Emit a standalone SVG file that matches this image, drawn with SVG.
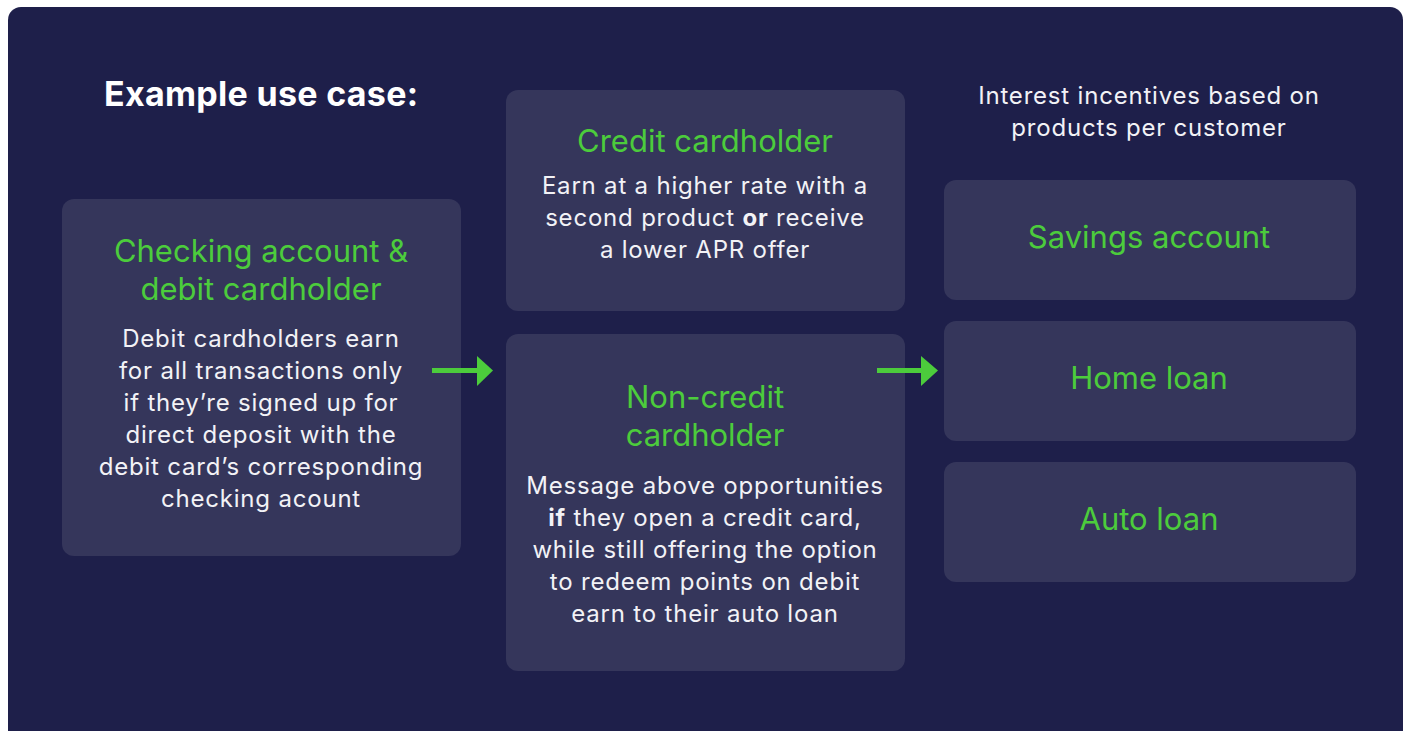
<svg xmlns="http://www.w3.org/2000/svg" width="1408" height="731" viewBox="0 0 1408 731">
<style>
.bg{fill:#1e1f4a}
.card{fill:#35365b}
.h{font-family:Inter,"Noto Sans",sans-serif;font-size:31px;fill:#4ccc3c;text-anchor:middle;font-weight:400}
.b{font-family:Inter,"Noto Sans",sans-serif;font-size:24px;letter-spacing:0.8px;fill:#f2f2f6;text-anchor:middle;font-weight:400}
.t{font-family:Inter,"Noto Sans",sans-serif;font-size:34px;letter-spacing:0.3px;fill:#ffffff;font-weight:700}
.bold{font-weight:700}
.arrow{fill:#4ccc3c}
</style>
<rect x="0" y="0" width="1408" height="731" fill="#ffffff"/>
<rect class="bg" x="8" y="7" width="1395" height="736" rx="13"/>
<text class="t" x="104" y="106">Example use case:</text>
<g id="caption">
<text class="b" x="1149" y="104">Interest incentives based on</text>
<text class="b" x="1149" y="136">products per customer</text>
</g>
<g id="checking">
<rect class="card" x="62" y="199" width="399" height="357" rx="12"/>
<text class="h" x="261" y="262">Checking account &amp;</text>
<text class="h" x="261" y="300">debit cardholder</text>
<text class="b" x="261" y="347">Debit cardholders earn</text>
<text class="b" x="261" y="379">for all transactions only</text>
<text class="b" x="261" y="411">if they’re signed up for</text>
<text class="b" x="261" y="443">direct deposit with the</text>
<text class="b" x="261" y="475">debit card’s corresponding</text>
<text class="b" x="261" y="507">checking acount</text>
</g>
<g id="credit">
<rect class="card" x="506" y="90" width="399" height="221" rx="12"/>
<text class="h" x="705" y="152">Credit cardholder</text>
<text class="b" x="705" y="194">Earn at a higher rate with a</text>
<text class="b" x="705" y="226">second product <tspan class="bold">or</tspan> receive</text>
<text class="b" x="705" y="258">a lower APR offer</text>
</g>
<g id="noncredit">
<rect class="card" x="506" y="334" width="399" height="337" rx="12"/>
<text class="h" x="705" y="408">Non-credit</text>
<text class="h" x="705" y="446">cardholder</text>
<text class="b" x="705" y="494">Message above opportunities</text>
<text class="b" x="705" y="526"><tspan class="bold">if</tspan> they open a credit card,</text>
<text class="b" x="705" y="558">while still offering the option</text>
<text class="b" x="705" y="590">to redeem points on debit</text>
<text class="b" x="705" y="622">earn to their auto loan</text>
</g>
<g id="savings">
<rect class="card" x="944" y="180" width="412" height="120" rx="12"/>
<text class="h" x="1149" y="248">Savings account</text>
</g>
<g id="home">
<rect class="card" x="944" y="321" width="412" height="120" rx="12"/>
<text class="h" x="1149" y="389">Home loan</text>
</g>
<g id="auto">
<rect class="card" x="944" y="462" width="412" height="120" rx="12"/>
<text class="h" x="1149" y="530">Auto loan</text>
</g>
<g id="connectors">
<rect class="arrow" x="432" y="368" width="46" height="5"/>
<polygon class="arrow" points="477,356 493,370.5 477,386"/>
<rect class="arrow" x="877" y="368" width="45" height="5"/>
<polygon class="arrow" points="921,356 938,370.5 921,386"/>
</g>
</svg>
